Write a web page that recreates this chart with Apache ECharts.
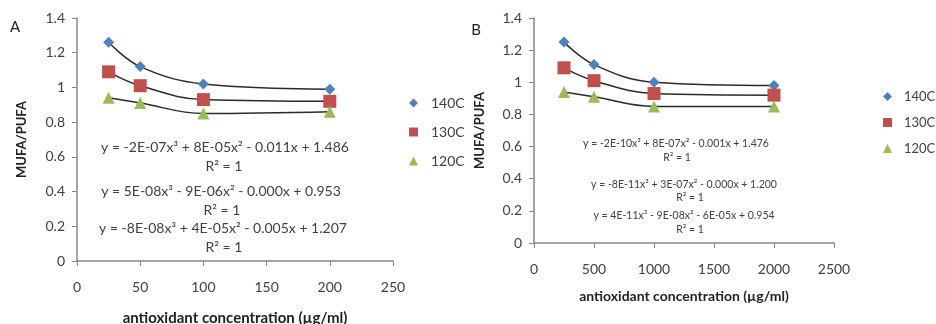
<!DOCTYPE html>
<html>
<head>
<meta charset="utf-8">
<script src="https://cdn.jsdelivr.net/npm/echarts@6/dist/echarts.min.js"></script>
<style>
  html, body { margin: 0; padding: 0; background: #fff; }
  #chart { width: 936px; height: 324px; }
</style>
</head>
<body>
<div id="chart"></div>
<script>
// panel A: concentrations 25..200
var xA = [25, 50, 100, 200];
var a140 = [1.26, 1.12, 1.02, 0.99];
var a130 = [1.09, 1.01, 0.93, 0.92];
var a120 = [0.94, 0.91, 0.85, 0.86];
// panel B: concentrations 250..2000
var xB = [250, 500, 1000, 2000];
var b140 = [1.25, 1.11, 1.00, 0.98];
var b130 = [1.09, 1.01, 0.93, 0.92];
var b120 = [0.94, 0.91, 0.85, 0.85];

var names = ['140C', '130C', '120C'];
var eqA = [
    'y = -2E-07x³ + 8E-05x² - 0.011x + 1.486', 'R² = 1',
    'y = 5E-08x³ - 9E-06x² - 0.000x + 0.953', 'R² = 1',
    'y = -8E-08x³ + 4E-05x² - 0.005x + 1.207', 'R² = 1'
];
var eqB = [
    'y = -2E-10x³ + 8E-07x² - 0.001x + 1.476', 'R² = 1',
    'y = -8E-11x³ + 3E-07x² - 0.000x + 1.200', 'R² = 1',
    'y = 4E-11x³ - 9E-08x² - 6E-05x + 0.954', 'R² = 1'
];

var FONT = 'Lato, "Open Sans", sans-serif';
var TXT = '#404040';
var colors = ['#4f81bd', '#c0504d', '#9bbb59'];
var symbols = ['diamond', 'rect', 'triangle'];
var sizes = [11, 13, 12];

function pairs(xs, ys) {
    return xs.map(function (x, i) { return [x, ys[i]]; });
}

function mkSeries(idx, xs, ysList) {
    return ysList.map(function (ys, k) {
        return {
            name: names[k],
            type: 'line',
            xAxisIndex: idx,
            yAxisIndex: idx,
            data: pairs(xs, ys),
            smooth: 0.4,
            symbol: symbols[k],
            symbolSize: sizes[k],
            itemStyle: { color: colors[k] },
            lineStyle: { color: '#2b2b2b', width: 1.5 },
            z: 3
        };
    });
}

function xAx(idx, max, step) {
    return {
        gridIndex: idx, type: 'value', min: 0, max: max, interval: step,
        name: 'antioxidant concentration (µg/ml)',
        nameLocation: 'middle', nameGap: idx === 0 ? 50 : 46,
        nameTextStyle: { fontFamily: FONT, fontWeight: 'bold', fontSize: idx === 0 ? 15 : 14, color: '#222' },
        axisLine: { lineStyle: { color: '#868686', width: 1.5 } },
        axisTick: { show: true, length: 5, lineStyle: { color: '#868686' } },
        axisLabel: { fontFamily: FONT, fontSize: 14, color: TXT, margin: 19,
            formatter: function (v) { return String(v); } },
        splitLine: { show: false }
    };
}

function yAx(idx) {
    return {
        gridIndex: idx, type: 'value', min: 0, max: 1.4, interval: 0.2,
        name: 'MUFA/PUFA', nameLocation: 'middle', nameGap: idx === 0 ? 49 : 48,
        nameTextStyle: { fontFamily: FONT, fontWeight: 'bold', fontSize: 13, color: '#222' },
        axisLine: { show: true, lineStyle: { color: '#868686', width: 1.5 } },
        axisTick: { show: true, length: 5, lineStyle: { color: '#868686' } },
        axisLabel: { fontFamily: FONT, fontSize: 14, color: TXT, margin: 12 },
        splitLine: { show: false }
    };
}

function eqText(list, cx, ys, size) {
    return list.map(function (t, i) {
        return {
            type: 'text',
            style: {
                text: t, x: cx[i], y: ys[i],
                align: 'center', verticalAlign: 'middle',
                textAlign: 'center', textVerticalAlign: 'middle',
                font: size + 'px ' + FONT, fill: TXT
            }
        };
    });
}

function legend(left, top, gap, fs, pad) {
    return {
        left: left, top: top, orient: 'vertical', itemGap: gap,
        itemWidth: 9, itemHeight: 9, padding: 0,
        textStyle: { fontFamily: FONT, fontSize: fs, color: TXT, padding: [0, 0, 0, pad] },
        data: names.map(function (n, k) { return { name: n, icon: symbols[k] }; })
    };
}

var chart = echarts.init(document.getElementById('chart'));
chart.setOption({
    animation: false,
    backgroundColor: '#fff',
    grid: [
        { left: 77, top: 18, width: 316, height: 243, outerBoundsMode: 'none', containLabel: false },
        { left: 534, top: 18, width: 300, height: 225, outerBoundsMode: 'none', containLabel: false }
    ],
    xAxis: [xAx(0, 250, 50), xAx(1, 2500, 500)],
    yAxis: [yAx(0), yAx(1)],
    legend: [legend(409, 96, 15, 14, 8), legend(883, 90, 13, 13, 7)],
    series: mkSeries(0, xA, [a140, a130, a120]).concat(mkSeries(1, xB, [b140, b130, b120])),
    graphic: [
        { type: 'text', style: { text: 'A', x: 15, y: 27, align: 'center', verticalAlign: 'middle', textAlign: 'center', textVerticalAlign: 'middle', font: '15px ' + FONT, fill: '#222' } },
        { type: 'text', style: { text: 'B', x: 476, y: 30, align: 'center', verticalAlign: 'middle', textAlign: 'center', textVerticalAlign: 'middle', font: '15px ' + FONT, fill: '#222' } }
    ].concat(
        eqText(eqA, [225, 224, 221, 222, 223, 224], [147, 166, 191, 210, 228, 247], 14),
        eqText(eqB, [676, 677, 684, 690, 684, 690], [144, 158, 185, 198, 216, 230], 10.5)
    )
});
</script>
</body>
</html>
